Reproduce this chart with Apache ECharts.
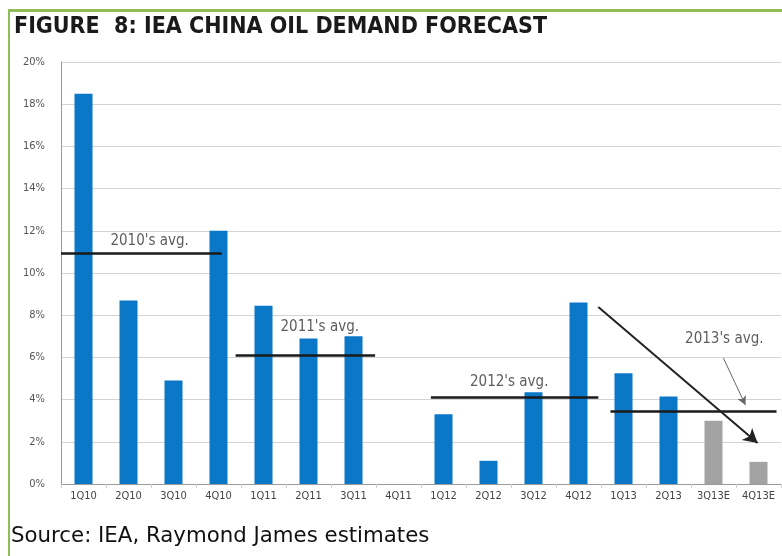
<!DOCTYPE html>
<html>
<head>
<meta charset="utf-8">
<script src="https://cdn.jsdelivr.net/npm/echarts@6/dist/echarts.min.js"></script>
<style>
html,body{margin:0;padding:0;background:#fff;}
#frame{position:absolute;left:8px;top:9px;width:780px;height:560px;border-left:2px solid #8fbe58;border-top:3px solid #8fbe58;}
#c{position:absolute;left:0;top:0;width:782px;height:556px;}
</style>
</head>
<body>
<div id="frame"></div>
<div id="c"></div>
<script>
// ---- data ----
var categories = ['1Q10','2Q10','3Q10','4Q10','1Q11','2Q11','3Q11','4Q11','1Q12','2Q12','3Q12','4Q12','1Q13','2Q13','3Q13E','4Q13E'];
var values = [18.5, 8.7, 4.9, 12.0, 8.45, 6.9, 7.0, 0, 3.3, 1.1, 4.35, 8.6, 5.25, 4.15, 3.0, 1.05];
var estimate = [false,false,false,false,false,false,false,false,false,false,false,false,false,false,true,true];
var yTicks = [0, 2, 4, 6, 8, 10, 12, 14, 16, 18, 20];
// average lines (x in category-index units)
var avgNames = ["2010's avg.", "2011's avg.", "2012's avg.", "2013's avg."];
var avgValues = [10.95, 6.1, 4.1, 3.45];
var avgStart = [-0.5, 3.38, 7.72, 11.71];
var avgEnd = [3.07, 6.48, 11.44, 15.4];
var avgLabelX = [1.47, 5.25, 9.46, 14.24];
var avgLabelY = [11.5, 7.45, 4.85, 6.85];
// trend arrow and pointer arrow [x, y]
var trendArrow = [[11.44, 8.39], [14.98, 1.94]];
var pointerArrow = [[14.22, 5.97], [14.71, 3.74]];

var chart = echarts.init(document.getElementById('c'), null, {renderer:'canvas'});

var barData = values.map(function(v,i){
  return {value: v, itemStyle:{color: estimate[i] ? '#a3a3a3' : '#0a77c7'}};
});

var avgLines = avgValues.map(function(v,i){
  return [{coord:[avgStart[i], v]}, {coord:[avgEnd[i], v]}];
});

var labelData = avgNames.map(function(n,i){
  return {value:[avgLabelX[i], avgLabelY[i]], name:n};
});

chart.setOption({
  animation:false,
  title:{
    text:'FIGURE  8: IEA CHINA OIL DEMAND FORECAST',
    left:14, top:16, padding:0,
    textStyle:{fontFamily:'DejaVu Sans Condensed', fontWeight:'bold', fontSize:23, color:'#1a1a1a'}
  },
  grid:{left:61, right:1, top:62, bottom:72},
  xAxis:[{
    type:'category', data:categories,
    axisLine:{lineStyle:{color:'#9a9a9a', width:1}},
    axisTick:{show:true, alignWithLabel:false, length:4, lineStyle:{color:'#d0d0d0'}},
    axisLabel:{color:'#444', fontSize:11, fontFamily:'DejaVu Sans Condensed', margin:7, interval:0}
  },{
    type:'value', min:-0.5, max:15.5, show:false
  }],
  yAxis:{
    type:'value', min:0, max:20, interval:2,
    axisLine:{show:true, onZero:false, lineStyle:{color:'#9a9a9a'}},
    axisTick:{show:false},
    splitLine:{lineStyle:{color:'#d4d4d4', width:1}},
    axisLabel:{color:'#555', fontSize:11, fontFamily:'DejaVu Sans Condensed', margin:16,
      formatter:function(v){ return yTicks.indexOf(v) >= 0 ? v + '%' : ''; }}
  },
  series:[{
    type:'bar', data:barData, barWidth:18, xAxisIndex:0
  },{
    type:'scatter', xAxisIndex:1, data:labelData, symbolSize:0,
    label:{show:true, formatter:function(p){return p.name;}, color:'#333', fontSize:15,
      fontFamily:'DejaVu Sans Condensed', position:'inside'},
    markLine:{
      silent:true, symbol:['none','none'],
      lineStyle:{color:'#1a1a1a', width:2.5, type:'solid'},
      label:{show:false},
      data: avgLines
    }
  },{
    type:'line', xAxisIndex:1, data:[],
    markLine:{
      silent:true,
      label:{show:false},
      data:[
        [{coord:trendArrow[0], symbol:'none', lineStyle:{color:'#222', width:2, type:'solid'}},
         {coord:trendArrow[1], symbol:'arrow', symbolSize:[12,14]}],
        [{coord:pointerArrow[0], symbol:'none', lineStyle:{color:'#666', width:1, type:'solid'}},
         {coord:pointerArrow[1], symbol:'arrow', symbolSize:[7,9]}]
      ]
    }
  }],
  graphic:[{
    type:'text', left:11, top:526,
    style:{text:'Source: IEA, Raymond James estimates', fontFamily:'DejaVu Sans', fontSize:21.3, fill:'#111'}
  }]
});
</script>
</body>
</html>
